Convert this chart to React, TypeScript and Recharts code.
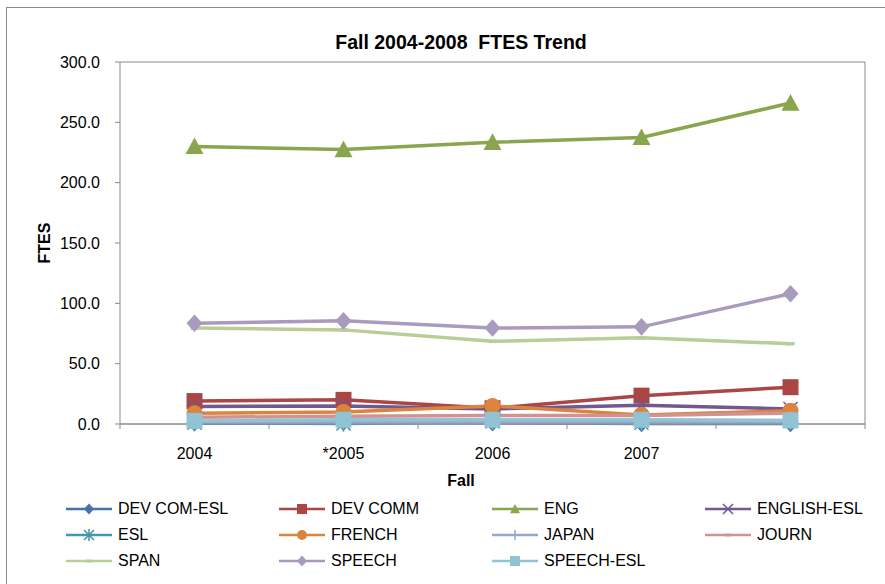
import React from "react";
import { ComposedChart, Line, XAxis, YAxis, CartesianGrid, Legend } from "recharts";

// Fall terms (the fifth label is blank in the source chart)
const years = ["2004", "*2005", "2006", "2007", ""];
const yTicks = [0, 50, 100, 150, 200, 250, 300];

// FTES per discipline
const devComEsl = [1.0, 1.5, 1.0, 0.5, 0.5];
const devComm = [19.0, 20.0, 13.0, 23.5, 30.5];
const eng = [230.0, 227.5, 233.5, 237.5, 266.0];
const englishEsl = [14.5, 15.0, 12.5, 15.5, 12.5];
const esl = [1.0, 0.5, 2.0, 1.0, 2.5];
const french = [9.0, 10.0, 15.0, 7.5, 11.0];
const japan = [1.5, 1.5, 1.0, 1.0, 1.0];
const journ = [5.5, 6.5, 7.0, 7.0, 9.0];
const span = [79.5, 78.0, 68.5, 71.5, 66.5];
const speech = [83.5, 85.5, 79.5, 80.5, 108.0];
const speechEsl = [2.5, 3.5, 3.5, 3.5, 3.0];

const FONT = '"Liberation Sans", Arial, sans-serif';
const GRID = "#8a8a8a";

const seriesList = [
  { name: "DEV COM-ESL", values: devComEsl, color: "#4572A7", marker: "diamond" },
  { name: "DEV COMM", values: devComm, color: "#AA4643", marker: "square" },
  { name: "ENG", values: eng, color: "#89A54E", marker: "triangle" },
  { name: "ENGLISH-ESL", values: englishEsl, color: "#71588F", marker: "x" },
  { name: "ESL", values: esl, color: "#4198AF", marker: "star" },
  { name: "FRENCH", values: french, color: "#DB843D", marker: "circle" },
  { name: "JAPAN", values: japan, color: "#93A9CF", marker: "plus" },
  { name: "JOURN", values: journ, color: "#D19392", marker: "dash" },
  { name: "SPAN", values: span, color: "#B9CD96", marker: "dash" },
  { name: "SPEECH", values: speech, color: "#A99BBD", marker: "diamond" },
  { name: "SPEECH-ESL", values: speechEsl, color: "#92C3D5", marker: "square" },
];

const data = years.map((year, i) => {
  const row: Record<string, string | number> = { year };
  seriesList.forEach((s) => {
    row[s.name] = s.values[i];
  });
  return row;
});

const W = 885;
const H = 584;
const PLOT_LEFT = 120;
const PLOT_RIGHT = 865;
const HALF_BAND = (PLOT_RIGHT - PLOT_LEFT) / years.length / 2;

function Marker({ shape, color, x, y, s }: { shape: string; color: string; x: number; y: number; s: number }) {
  switch (shape) {
    case "diamond":
      return <path d={`M${x},${y - s * 1.1}L${x + s},${y}L${x},${y + s * 1.1}L${x - s},${y}Z`} fill={color} />;
    case "square":
      return <rect x={x - s} y={y - s} width={s * 2} height={s * 2} fill={color} />;
    case "triangle":
      return <path d={`M${x},${y - s}L${x + s},${y + s * 0.85}L${x - s},${y + s * 0.85}Z`} fill={color} />;
    case "x":
      return (
        <path d={`M${x - s},${y - s}L${x + s},${y + s}M${x + s},${y - s}L${x - s},${y + s}`} stroke={color} strokeWidth={1.5} />
      );
    case "star":
      return (
        <path
          d={`M${x - s},${y - s}L${x + s},${y + s}M${x + s},${y - s}L${x - s},${y + s}M${x},${y - s * 1.2}L${x},${y + s * 1.2}`}
          stroke={color}
          strokeWidth={1.5}
        />
      );
    case "circle":
      return <circle cx={x} cy={y} r={s} fill={color} />;
    case "plus":
      return <path d={`M${x - s},${y}L${x + s},${y}M${x},${y - s}L${x},${y + s}`} stroke={color} strokeWidth={1.5} />;
    case "dash":
      return <rect x={x - s * 0.8} y={y - s * 0.35} width={s * 1.6} height={s * 0.7} fill={color} />;
    default:
      return null;
  }
}

const markerSize: Record<string, number> = {
  diamond: 8,
  square: 8,
  triangle: 9,
  x: 7,
  star: 7,
  circle: 8,
  plus: 7,
  dash: 5,
};

const CategoryTick = (props: any) => {
  const { x, y, payload, index } = props;
  const axisY = y - 24;
  return (
    <g>
      <line x1={x - HALF_BAND} x2={x - HALF_BAND} y1={axisY} y2={axisY + 5} stroke={GRID} />
      {index === years.length - 1 && (
        <line x1={x + HALF_BAND} x2={x + HALF_BAND} y1={axisY} y2={axisY + 5} stroke={GRID} />
      )}
      <text x={x} y={y} dy="0.71em" textAnchor="middle" fill="#000" fontSize={16} fontFamily={FONT}>
        {payload.value}
      </text>
    </g>
  );
};

const renderLegend = () => (
  <div
    style={{
      display: "grid",
      gridTemplateColumns: "repeat(4, 213px)",
      paddingLeft: 66,
      fontFamily: FONT,
      fontSize: 16,
      color: "#000",
    }}
  >
    {seriesList.map((s) => (
      <div key={s.name} style={{ display: "flex", alignItems: "center", height: 26 }}>
        <svg width={46} height={16} style={{ flex: "none" }}>
          <line x1={0} x2={46} y1={8} y2={8} stroke={s.color} strokeWidth={2.5} />
          <Marker shape={s.marker} color={s.color} x={23} y={8} s={s.marker === "dash" ? 4 : 5} />
        </svg>
        <span style={{ marginLeft: 6, whiteSpace: "nowrap" }}>{s.name}</span>
      </div>
    ))}
  </div>
);

export default function App() {
  return (
    <div style={{ position: "absolute", left: 0, top: 0, width: W, height: H, overflow: "hidden", background: "#fff" }}>
      <div
        style={{
          position: "absolute",
          left: 6,
          top: 7,
          width: 940,
          height: 640,
          border: `1px solid ${GRID}`,
        }}
      />
      <div
        style={{
          position: "absolute",
          left: 0,
          top: 31,
          width: 922,
          textAlign: "center",
          fontFamily: FONT,
          fontWeight: "bold",
          fontSize: 19.5,
          lineHeight: "22px",
          whiteSpace: "pre",
        }}
      >
        {"Fall 2004-2008  FTES Trend"}
      </div>
      <ComposedChart
        width={W}
        height={H}
        data={data}
        margin={{ top: 62, right: W - PLOT_RIGHT - 20, bottom: H - 424 - 64, left: 0 }}
        style={{ position: "absolute", left: 0, top: 0 }}
      >
        <CartesianGrid horizontal vertical={false} stroke={GRID} strokeDasharray="" />
        <XAxis
          dataKey="year"
          type="category"
          scale="band"
          interval={0}
          height={64}
          axisLine={{ stroke: GRID }}
          tickLine={false}
          tickSize={5}
          tickMargin={19}
          tick={<CategoryTick />}
          label={{
            content: () => (
              <text x={461} y={486} textAnchor="middle" fontFamily={FONT} fontWeight="bold" fontSize={16} fill="#000">
                Fall
              </text>
            ),
          }}
        />
        <YAxis
          yAxisId="left"
          width={PLOT_LEFT}
          domain={[0, 300]}
          ticks={yTicks}
          interval={0}
          tickFormatter={(v: number) => v.toFixed(1)}
          axisLine={{ stroke: GRID }}
          tickLine={{ stroke: GRID }}
          tickSize={5}
          tickMargin={15}
          tick={{ fill: "#000", fontSize: 16, fontFamily: FONT }}
          label={{
            content: (p: any) => {
              const vb = p.viewBox || { x: 0, y: 62, height: 362 };
              const cx = 44;
              const cy = vb.y + vb.height / 2;
              return (
                <text
                  x={cx}
                  y={cy}
                  transform={`rotate(-90 ${cx} ${cy})`}
                  textAnchor="middle"
                  dominantBaseline="central"
                  fontFamily={FONT}
                  fontWeight="bold"
                  fontSize={16}
                  fill="#000"
                >
                  FTES
                </text>
              );
            },
          }}
        />
        <YAxis
          yAxisId="right"
          orientation="right"
          width={20}
          domain={[0, 300]}
          tick={false}
          tickLine={false}
          axisLine={{ stroke: GRID }}
        />
        {seriesList.map((s) => (
          <Line
            key={s.name}
            yAxisId="left"
            type="linear"
            dataKey={s.name}
            name={s.name}
            stroke={s.color}
            strokeWidth={3.5}
            isAnimationActive={false}
            activeDot={false}
            dot={(p: any) => (
              <Marker key={`${s.name}-${p.index}`} shape={s.marker} color={s.color} x={p.cx} y={p.cy} s={markerSize[s.marker]} />
            )}
          />
        ))}
        <Legend
          verticalAlign="middle"
          align="center"
          layout="horizontal"
          content={renderLegend}
          wrapperStyle={{ top: 496, left: 0, width: W }}
        />
      </ComposedChart>
    </div>
  );
}
